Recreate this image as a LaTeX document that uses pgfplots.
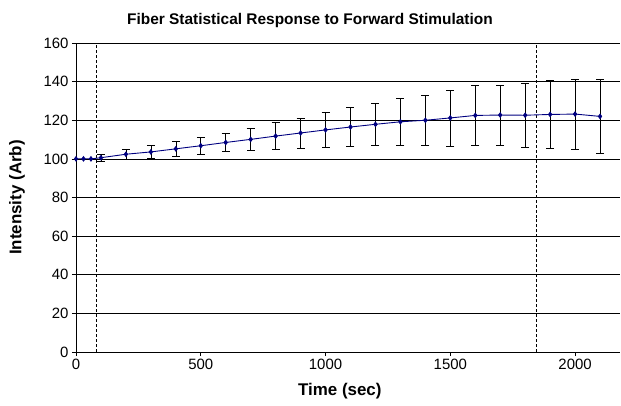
\documentclass[border=0pt]{standalone}
\usepackage{pgfplots}
\pgfplotsset{compat=1.18}
\usepackage{fontspec}
\setmainfont{Liberation Sans}
\begin{document}
\begin{tikzpicture}
\path[use as bounding box] (-76bp,-54bp) rectangle (545bp,352bp);
\begin{axis}[
  at={(0,0)}, anchor=south west,
  scale only axis, width=544bp, height=309bp,
  xmin=0, xmax=2180, ymin=0, ymax=160,
  axis x line*=bottom, axis y line*=left,
  axis line style={black, line width=0.9pt},
  xtick={0,500,1000,1500,2000},
  ytick={0,20,...,160},
  ymajorgrids, major grid style={black, line width=0.6pt},
  tick style={black, line width=0.6pt},
  major tick length=4bp, tick align=outside,
  tick label style={font=\fontsize{15}{17}\selectfont},
  /pgf/number format/assume math mode=true,
  /pgf/number format/1000 sep={},
  xlabel={\bfseries Time (sec)},
  ylabel={\bfseries Intensity (Arb)},
  label style={font=\fontsize{17}{20}\selectfont},
  title={\bfseries Fiber Statistical Response to Forward Stimulation},
  title style={font=\fontsize{15.5}{18}\selectfont, at={(axis description cs:0.43,1)}, anchor=south, yshift=6bp},
  xlabel style={at={(axis description cs:0.485,0)}, anchor=center, yshift=-39bp},
  ylabel style={at={(axis description cs:-0.1085,0.5)}, anchor=center},
  clip=false,
]
\addplot[black, densely dashed, line width=0.5pt] coordinates {(80,0) (80,160)};
\addplot[black, densely dashed, line width=0.5pt] coordinates {(1845,0) (1845,160)};
\addplot[
  color={rgb,255:red,0;green,0;blue,128}, line width=0.9pt,
  mark=diamond*, mark size=2.2pt,
  mark options={fill={rgb,255:red,0;green,0;blue,128}},
  error bars/.cd, y dir=both, y explicit,
  error bar style={black, line width=0.6pt},
  error mark options={black, rotate=90, mark size=4bp, line width=0.6pt},
] table[x=x, y=y, y error=e] {
x y e
0 100 0
30 100 0
60 100 0
100 100.6 1.6
200 102.4 2.6
300 103.6 3.4
400 105.2 3.8
500 106.8 4.3
600 108.5 4.6
700 110.1 5.6
800 111.8 7.1
900 113.4 7.8
1000 115.0 8.9
1100 116.5 10.0
1200 117.9 11.0
1300 119.2 12.0
1400 120.0 12.9
1500 121.2 14.5
1600 122.5 15.4
1700 122.7 15.6
1800 122.6 16.4
1900 123.0 17.6
2000 123.2 18.0
2100 122.0 19.3
};
\end{axis}
\end{tikzpicture}
\end{document}
